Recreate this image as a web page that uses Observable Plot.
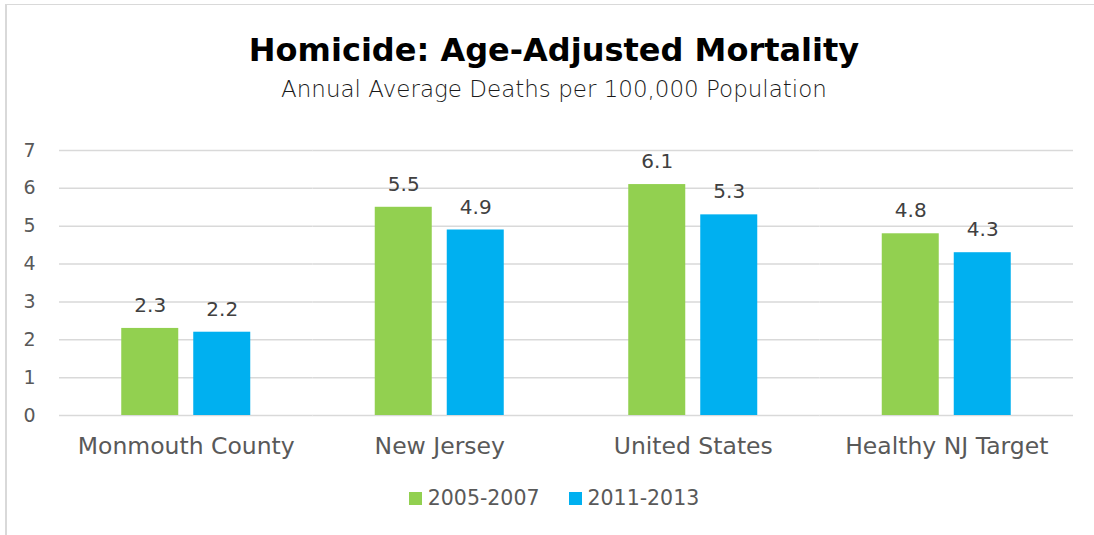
<!DOCTYPE html>
<html>
<head>
<meta charset="utf-8">
<script src="https://cdn.jsdelivr.net/npm/d3@7"></script>
<script src="https://cdn.jsdelivr.net/npm/@observablehq/plot@0.6"></script>
<style>
  html, body { margin: 0; padding: 0; background: #fff; width: 1094px; height: 535px; overflow: hidden; }
  #frame { position: absolute; left: 5px; top: 4px; width: 1200px; height: 600px;
           border-top: 1.5px solid #d9d9d9; border-left: 2px solid #d9d9d9; box-sizing: border-box; }
  .t { position: absolute; left: 5px; width: 1098px; text-align: center; font-family: "DejaVu Sans", sans-serif; white-space: nowrap; }
  #title { top: 29.6px; height: 40px; line-height: 40px; font-size: 32px; font-weight: bold; color: #000; }
  #subtitle { top: 74.3px; height: 30px; line-height: 30px; font-size: 23px; font-weight: 300; color: #1a1a1a; }
  #chart { position: absolute; left: 0; top: 120px; }
  #legend { position: absolute; top: 484px; left: 5px; width: 1098px; display: flex; justify-content: center; align-items: center;
            font-family: "DejaVu Sans", sans-serif; font-size: 20.5px; color: #595959; height: 28px; }
  .item { display: flex; align-items: center; margin: 0 14.5px; }
  .sw { width: 13px; height: 13px; margin-right: 6px; }
</style>
</head>
<body>
<div id="frame"></div>
<div class="t" id="title">Homicide: Age-Adjusted Mortality</div>
<div class="t" id="subtitle">Annual Average Deaths per 100,000 Population</div>
<div id="chart"></div>
<div id="legend"></div>
<script>
const categories = ["Monmouth County", "New Jersey", "United States", "Healthy NJ Target"];
const series = ["2005-2007", "2011-2013"];
const values2005 = [2.3, 5.5, 6.1, 4.8];
const values2011 = [2.2, 4.9, 5.3, 4.3];
const colors = ["#92D050", "#00B0F0"];
const yTicks = [0, 1, 2, 3, 4, 5, 6, 7];

const rows = [];
categories.forEach((c, i) => {
  rows.push({category: c, series: series[0], value: values2005[i]});
  rows.push({category: c, series: series[1], value: values2011[i]});
});

const chart = Plot.plot({
  width: 1094,
  height: 340,
  marginTop: 30,
  marginBottom: 45,
  marginLeft: 59,
  marginRight: 21,
  style: {fontFamily: "DejaVu Sans, sans-serif", background: "transparent"},
  fx: {domain: categories, padding: 0, round: false, axis: null},
  x: {domain: series, paddingInner: 0.2083, paddingOuter: 0.8646, round: false, axis: null},
  y: {domain: [0, 7], axis: null},
  color: {domain: series, range: colors},
  marks: [
    Plot.gridY({ticks: yTicks, stroke: "#d9d9d9", strokeOpacity: 1, strokeWidth: 1.5}),
    Plot.axisY({ticks: yTicks, tickFormat: d => String(d), label: null, tickSize: 0, tickPadding: 24,
      fontSize: 19, fill: "#595959"}),
    Plot.axisFx({anchor: "bottom", tickSize: 0, tickPadding: 21.7, fontSize: 23.5, fill: "#595959", label: null}),
    Plot.barY(rows, {fx: "category", x: "series", y: "value", fill: "series"}),
    Plot.text(rows, {fx: "category", x: "series", y: "value", text: d => d3.format(".1f")(d.value),
      lineAnchor: "bottom", dy: -16.5, fontSize: 20, fill: "#404040"})
  ]
});
document.getElementById("chart").appendChild(chart);

const legend = document.getElementById("legend");
series.forEach((s, i) => {
  const item = document.createElement("div");
  item.className = "item";
  const sw = document.createElement("div");
  sw.className = "sw";
  sw.style.background = colors[i];
  const lab = document.createElement("span");
  lab.textContent = s;
  item.appendChild(sw);
  item.appendChild(lab);
  legend.appendChild(item);
});
</script>
</body>
</html>
